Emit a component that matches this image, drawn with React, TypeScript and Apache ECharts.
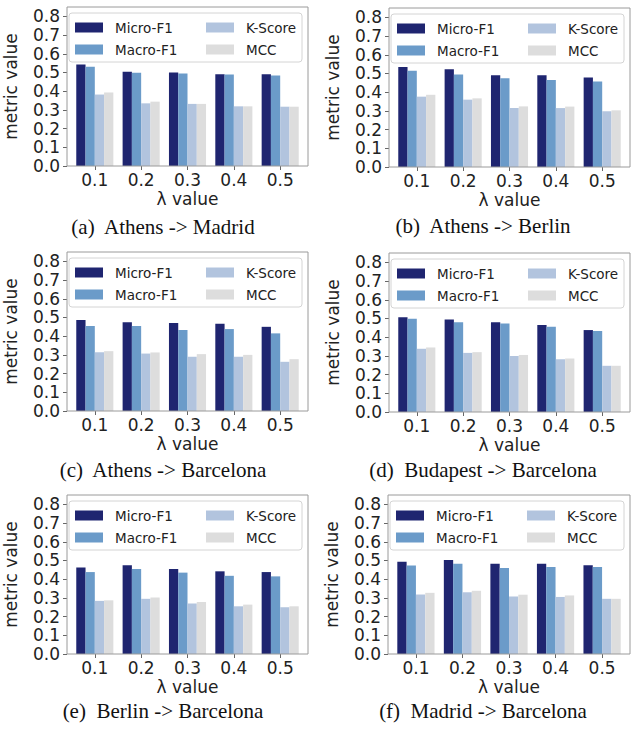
import React, { useEffect, useRef } from 'react';
import * as echarts from 'echarts';

const lambdaValues = ['0.1', '0.2', '0.3', '0.4', '0.5'];
const metricNames = ['Micro-F1', 'Macro-F1', 'K-Score', 'MCC'];
const yTickValues = [0, 0.1, 0.2, 0.3, 0.4, 0.5, 0.6, 0.7, 0.8];
const captions = [
  '(a)  Athens -> Madrid',
  '(b)  Athens -> Berlin',
  '(c)  Athens -> Barcelona',
  '(d)  Budapest -> Barcelona',
  '(e)  Berlin -> Barcelona',
  '(f)  Madrid -> Barcelona',
];

// (a) Athens -> Madrid
const aMicro = [0.543, 0.504, 0.5, 0.49, 0.49];
const aMacro = [0.53, 0.498, 0.495, 0.489, 0.484];
const aK = [0.382, 0.335, 0.332, 0.319, 0.317];
const aMcc = [0.393, 0.344, 0.332, 0.319, 0.317];
// (b) Athens -> Berlin
const bMicro = [0.535, 0.522, 0.49, 0.49, 0.478];
const bMacro = [0.515, 0.495, 0.474, 0.465, 0.457];
const bK = [0.376, 0.36, 0.315, 0.315, 0.298];
const bMcc = [0.386, 0.367, 0.324, 0.323, 0.303];
// (c) Athens -> Barcelona
const cMicro = [0.486, 0.475, 0.47, 0.466, 0.45];
const cMacro = [0.455, 0.455, 0.433, 0.438, 0.415];
const cK = [0.314, 0.307, 0.29, 0.29, 0.263];
const cMcc = [0.32, 0.313, 0.304, 0.3, 0.277];
// (d) Budapest -> Barcelona
const dMicro = [0.507, 0.495, 0.48, 0.465, 0.438];
const dMacro = [0.498, 0.48, 0.473, 0.456, 0.433];
const dK = [0.338, 0.316, 0.3, 0.282, 0.247];
const dMcc = [0.345, 0.32, 0.305, 0.286, 0.247];
// (e) Berlin -> Barcelona
const eMicro = [0.462, 0.475, 0.455, 0.442, 0.438];
const eMacro = [0.438, 0.455, 0.435, 0.418, 0.415];
const eK = [0.284, 0.295, 0.27, 0.255, 0.25];
const eMcc = [0.287, 0.302, 0.278, 0.264, 0.255];
// (f) Madrid -> Barcelona
const fMicro = [0.493, 0.502, 0.482, 0.482, 0.475];
const fMacro = [0.473, 0.482, 0.46, 0.465, 0.465];
const fK = [0.318, 0.33, 0.307, 0.305, 0.295];
const fMcc = [0.327, 0.338, 0.317, 0.313, 0.295];

const panelData = [
  [aMicro, aMacro, aK, aMcc],
  [bMicro, bMacro, bK, bMcc],
  [cMicro, cMacro, cK, cMcc],
  [dMicro, dMacro, dK, dMcc],
  [eMicro, eMacro, eK, eMcc],
  [fMicro, fMacro, fK, fMcc],
];

const COLORS = ['#1f2570', '#6b9bc9', '#b2c4de', '#dddddd'];
const FONT = '"DejaVu Sans", sans-serif';
const TEXT = '#222222';

// layout of each subplot frame (left, right, bottom of axes box) and caption centre
const FRAMES = [
  { l: 67, r: 308, b: 166, cx: 163, cy: 227 },
  { l: 389, r: 630, b: 167, cx: 483, cy: 226 },
  { l: 67, r: 308, b: 411, cx: 163, cy: 470 },
  { l: 389, r: 630, b: 412, cx: 483, cy: 470 },
  { l: 67, r: 308, b: 654, cx: 163, cy: 711 },
  { l: 388, r: 630, b: 654, cx: 483, cy: 711 },
];
const FRAME_H = 159;

export default function App() {
  const ref = useRef<HTMLDivElement>(null);
  useEffect(() => {
    const chart = echarts.init(ref.current!, null, { renderer: 'svg' });
    const grids: any[] = [];
    const xAxes: any[] = [];
    const yAxes: any[] = [];
    const series: any[] = [];
    const legends: any[] = [];
    const graphics: any[] = [];

    FRAMES.forEach((f, p) => {
      const w = f.r - f.l;
      const t = f.b - FRAME_H;
      const inset = w / 52;
      grids.push({
        left: f.l, top: t, width: w, height: FRAME_H,
        show: true, borderColor: '#9a9a9a', borderWidth: 1,
        backgroundColor: 'transparent', z: 10,
      });
      grids.push({ left: f.l + inset, top: t, width: w - 2 * inset, height: FRAME_H });

      xAxes.push({ type: 'value', gridIndex: 2 * p, show: false, min: 0, max: 1 });
      xAxes.push({
        type: 'category', gridIndex: 2 * p + 1, data: lambdaValues,
        axisLine: { show: false },
        axisTick: { show: true, alignWithLabel: true, length: 4, lineStyle: { color: '#666' } },
        axisLabel: { fontSize: 17, fontFamily: FONT, color: TEXT, margin: 5 },
        name: 'λ value', nameLocation: 'middle', nameGap: 24,
        nameTextStyle: { fontSize: 17, fontFamily: FONT, color: TEXT },
      });
      yAxes.push({
        type: 'value', gridIndex: 2 * p, min: 0, max: 0.85,
        axisLine: { show: false },
        axisTick: { show: true, length: 4, customValues: yTickValues, lineStyle: { color: '#666' } },
        axisLabel: {
          customValues: yTickValues, fontSize: 17, fontFamily: FONT, color: TEXT, margin: 7,
          formatter: (v: number) => v.toFixed(1),
        },
        splitLine: { show: false },
        name: 'metric value', nameLocation: 'middle', nameGap: 48,
        nameTextStyle: { fontSize: 17, fontFamily: FONT, color: TEXT },
      });
      yAxes.push({ type: 'value', gridIndex: 2 * p + 1, min: 0, max: 0.85, show: false });

      metricNames.forEach((m, k) => {
        series.push({
          type: 'bar', name: m,
          xAxisIndex: 2 * p + 1, yAxisIndex: 2 * p + 1,
          data: panelData[p][k],
          itemStyle: { color: COLORS[k] },
          barGap: '0%', barCategoryGap: '20%',
        });
      });

      const legendCommon = {
        orient: 'vertical', top: t + 13.5, itemWidth: 28, itemHeight: 10, itemGap: 8,
        padding: 0, icon: 'rect', selectedMode: false,
        textStyle: { fontSize: 13.5, fontFamily: FONT, color: TEXT, padding: [0, 0, 0, 7] },
      };
      legends.push({ ...legendCommon, left: f.l + 8, data: [metricNames[0], metricNames[1]] });
      legends.push({ ...legendCommon, left: f.l + 139, data: [metricNames[2], metricNames[3]] });

      graphics.push({
        type: 'rect', z: 3,
        shape: { x: f.l + 2, y: t + 6, width: w - 8, height: 49, r: 3 },
        style: { fill: 'rgba(255,255,255,0.85)', stroke: '#d4d4d4', lineWidth: 1 },
      });
      graphics.push({
        type: 'text', x: f.cx, y: f.cy, z: 3,
        style: {
          text: captions[p], fontSize: 21, fontFamily: '"Liberation Serif", serif',
          fill: '#111', align: 'center', verticalAlign: 'middle',
        },
      });
    });

    chart.setOption({
      animation: false,
      backgroundColor: '#ffffff',
      grid: grids, xAxis: xAxes, yAxis: yAxes, series, legend: legends, graphic: graphics,
    });
    return () => chart.dispose();
  }, []);
  return (
    <div ref={ref} style={{ position: 'absolute', left: 0, top: 0, width: 635, height: 729 }} />
  );
}
